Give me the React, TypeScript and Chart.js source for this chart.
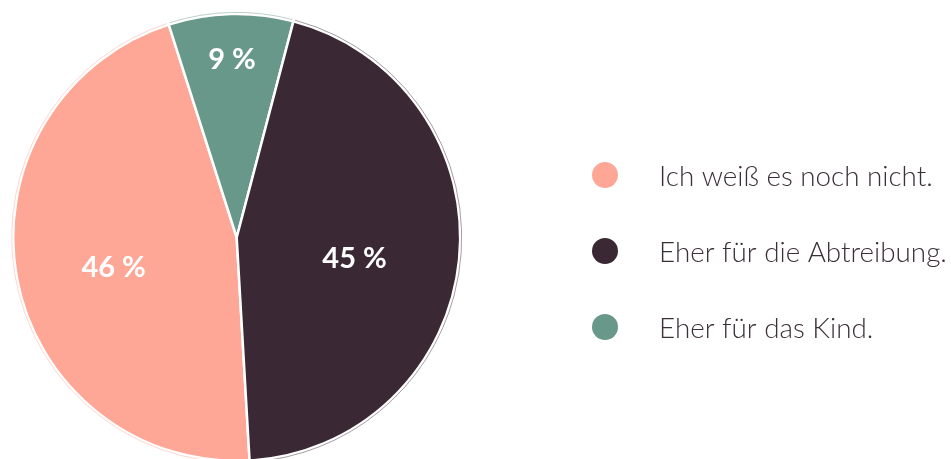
import React, { useEffect, useRef } from "react";
import { Chart, registerables } from "chart.js";

Chart.register(...registerables);

// slices in clockwise drawing order
const categories = ["Ich weiß es noch nicht.", "Eher für das Kind.", "Eher für die Abtreibung."];
const shares = [46, 9, 45];
const sliceColors = ["#FFA797", "#68988A", "#3A2934"];
// legend lists the slices in this order
const legendOrder = [0, 2, 1];
const labelRadiusFraction = [0.56, 0.8, 0.53];
const labelYOffset = [7, 1, 9];

const legendPlugin = {
  id: "customLegend",
  afterDraw(chart: any) {
    const ctx = chart.ctx;
    const labels = chart.data.labels as string[];
    const colors = chart.data.datasets[0].backgroundColor as string[];
    const ys = [175, 251, 327];
    ctx.save();
    legendOrder.forEach((idx, i) => {
      ctx.beginPath();
      ctx.fillStyle = colors[idx];
      ctx.arc(605, ys[i], 13, 0, Math.PI * 2);
      ctx.fill();
      ctx.fillStyle = "#3B2F38";
      ctx.font = "300 27.8px Lato";
      ctx.textBaseline = "middle";
      ctx.textAlign = "left";
      ctx.fillText(labels[idx], 659, ys[i] + 2);
    });
    ctx.restore();
  },
};

const sliceLabelPlugin = {
  id: "sliceLabels",
  afterDatasetsDraw(chart: any) {
    const ctx = chart.ctx;
    const meta = chart.getDatasetMeta(0);
    const data = chart.data.datasets[0].data as number[];
    const colors = chart.data.datasets[0].backgroundColor as string[];
    ctx.save();
    meta.data.forEach((arc: any, i: number) => {
      const { x, y, startAngle, endAngle, outerRadius } = arc.getProps(
        ["x", "y", "startAngle", "endAngle", "outerRadius"],
        true
      );
      ctx.beginPath();
      ctx.strokeStyle = colors[i];
      ctx.globalAlpha = 0.45;
      ctx.lineWidth = 1;
      ctx.arc(x, y, outerRadius + 1.5, startAngle + 0.006, endAngle - 0.006);
      ctx.stroke();
      ctx.globalAlpha = 1;
      const mid = (startAngle + endAngle) / 2;
      const r = outerRadius * labelRadiusFraction[i];
      ctx.fillStyle = "#FFFFFF";
      ctx.font = "bold 29px Lato";
      ctx.textAlign = "center";
      ctx.textBaseline = "middle";
      ctx.fillText(
        data[i] + " %",
        x + Math.cos(mid) * r,
        y + Math.sin(mid) * r + labelYOffset[i]
      );
    });
    ctx.restore();
  },
};

export default function App() {
  const ref = useRef<HTMLCanvasElement | null>(null);
  useEffect(() => {
    if (!ref.current) return;
    const chart = new Chart(ref.current, {
      type: "pie",
      data: {
        labels: categories,
        datasets: [
          {
            data: shares,
            backgroundColor: sliceColors,
            borderColor: "#FFFFFF",
            borderWidth: 2.5,
          },
        ],
      },
      options: {
        responsive: false,
        animation: false,
        devicePixelRatio: 1,
        rotation: 176.7,
        radius: 223.5,
        layout: { padding: { left: 0, top: 0, right: 951 - 473.4, bottom: 0 } },
        plugins: {
          legend: { display: false },
          tooltip: { enabled: false },
        },
      },
      plugins: [sliceLabelPlugin, legendPlugin],
    });
    return () => chart.destroy();
  }, []);
  return (
    <div
      style={{
        position: "fixed",
        left: 0,
        top: 0,
        width: 951,
        height: 459,
        overflow: "hidden",
        background: "#FFFFFF",
      }}
    >
      <canvas ref={ref} width={951} height={475} style={{ display: "block" }} />
    </div>
  );
}
